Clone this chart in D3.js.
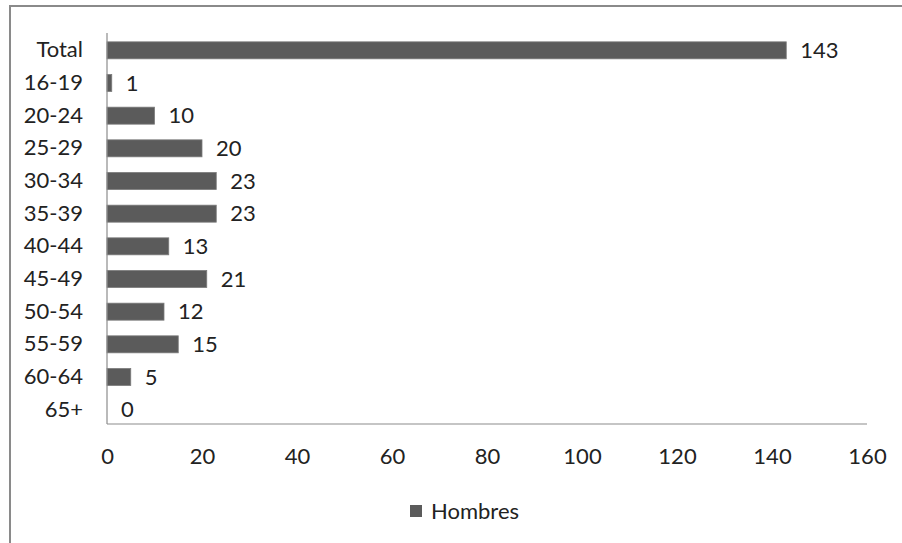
<!DOCTYPE html>
<html>
<head>
<meta charset="utf-8">
<script src="https://cdn.jsdelivr.net/npm/d3@7/dist/d3.min.js"></script>
<style>
  html, body { margin: 0; padding: 0; background: #fff; }
  svg { display: block; }
  text { font-family: Lato, "Open Sans", sans-serif; fill: #222; }
</style>
</head>
<body>
<svg id="chart" width="902" height="543"></svg>
<script>
// Age groups (men) and their counts
const categories = ["Total", "16-19", "20-24", "25-29", "30-34", "35-39", "40-44", "45-49", "50-54", "55-59", "60-64", "65+"];
const hombres = [143, 1, 10, 20, 23, 23, 13, 21, 12, 15, 5, 0];
const xTicks = [0, 20, 40, 60, 80, 100, 120, 140, 160];
const seriesName = "Hombres";

const svg = d3.select("#chart");
const barColor = "#5b5b5b";
const fontSize = 22;
const fontFamily = "Lato, 'Open Sans', sans-serif";

// Outer frame (top and left edges)
svg.append("path")
  .attr("d", "M10,543 L10,6 L902,6")
  .attr("fill", "none")
  .attr("stroke", "#8a8a8a")
  .attr("stroke-width", 2);

const plot = { left: 107, right: 867, top: 33, bottom: 424 };

const x = d3.scaleLinear().domain([0, 160]).range([plot.left, plot.right]);
const y = d3.scaleBand().domain(categories).range([plot.top + 1, plot.bottom + 2])
  .paddingInner(0.48).paddingOuter(0.24);

// Bars
svg.append("g").selectAll("rect")
  .data(categories)
  .join("rect")
  .attr("x", x(0))
  .attr("y", d => y(d))
  .attr("width", (d, i) => x(hombres[i]) - x(0))
  .attr("height", y.bandwidth())
  .attr("fill", barColor)
  .attr("stroke", "#7a7a7a")
  .attr("stroke-width", 0.8);

// Axis lines
const axisColor = "#8c8c8c";
svg.append("line")
  .attr("x1", plot.left).attr("x2", plot.left)
  .attr("y1", plot.top).attr("y2", plot.bottom)
  .attr("stroke", axisColor).attr("stroke-width", 1.2);
svg.append("line")
  .attr("x1", plot.left).attr("x2", plot.right)
  .attr("y1", plot.bottom).attr("y2", plot.bottom)
  .attr("stroke", axisColor).attr("stroke-width", 1.2);

// Category labels
const yAxis = d3.axisLeft(y).tickSize(0).tickPadding(24);
const gy = svg.append("g").attr("transform", `translate(${plot.left},0)`).call(yAxis);
gy.select(".domain").remove();
gy.selectAll("text")
  .attr("font-size", fontSize)
  .attr("font-family", fontFamily)
  .attr("fill", "#222");

// Value axis labels
const xAxis = d3.axisBottom(x).tickValues(xTicks).tickSize(0).tickPadding(24);
const gx = svg.append("g").attr("transform", `translate(0,${plot.bottom})`).call(xAxis);
gx.select(".domain").remove();
gx.selectAll("text")
  .attr("font-size", fontSize)
  .attr("font-family", fontFamily)
  .attr("fill", "#222");

// Data labels
svg.append("g").selectAll("text")
  .data(categories)
  .join("text")
  .attr("x", (d, i) => x(hombres[i]) + 14)
  .attr("y", d => y(d) + y.bandwidth() / 2)
  .attr("dy", "0.35em")
  .attr("font-size", fontSize)
  .text((d, i) => hombres[i]);

// Legend
const legend = svg.append("g").attr("transform", "translate(410,505)");
legend.append("rect")
  .attr("width", 12).attr("height", 12)
  .attr("fill", barColor);
legend.append("text")
  .attr("x", 21).attr("y", 6)
  .attr("dy", "0.35em")
  .attr("font-size", fontSize)
  .text(seriesName);
</script>
</body>
</html>
